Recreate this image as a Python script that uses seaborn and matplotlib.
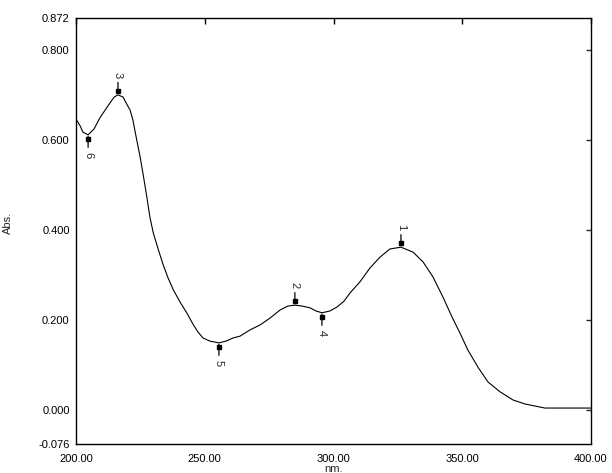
import numpy as np
import pandas as pd
import matplotlib
matplotlib.use("Agg")
import matplotlib.pyplot as plt
import matplotlib.transforms as mtransforms
import seaborn as sns

# spectrum (wavelength nm, absorbance)
wavelength = [200.0, 201.6, 202.7, 204.7, 207.0, 209.3, 211.3, 213.2, 214.8, 216.3,
              218.3, 219.0, 221.0, 222.1, 223.6, 224.9, 226.1, 227.5, 228.7, 230.0,
              232.0, 233.9, 235.8, 237.8, 240.4, 243.0, 245.6, 247.4, 249.3, 252.0,
              255.5, 258.3, 261.0, 263.7, 267.6, 271.5, 275.3,
              279.2, 282.3, 285.0, 287.8, 290.9, 293.2, 295.5, 298.6, 301.4, 304.1,
              306.4, 310.3, 314.2, 318.1, 321.9, 326.2, 330.9, 334.8, 338.6, 342.5,
              346.0, 349.1, 352.2, 356.1, 360.0, 364.7, 369.7, 374.4, 382.1, 391.8,
              400.0]
absorbance = [0.647, 0.632, 0.618, 0.612, 0.625, 0.650, 0.667, 0.683, 0.696, 0.701,
              0.696, 0.688, 0.667, 0.645, 0.600, 0.563, 0.523, 0.474, 0.429, 0.394,
              0.356, 0.322, 0.293, 0.267, 0.240, 0.216, 0.189, 0.173, 0.160, 0.153,
              0.149, 0.153, 0.160, 0.164, 0.178, 0.189, 0.204,
              0.222, 0.231, 0.233, 0.231, 0.227, 0.220, 0.216, 0.220, 0.229, 0.242,
              0.260, 0.285, 0.316, 0.340, 0.358, 0.362, 0.351, 0.329, 0.296, 0.251,
              0.207, 0.171, 0.133, 0.095, 0.062, 0.040, 0.022, 0.013, 0.004, 0.004,
              0.004]

# picked peaks / valleys
pick_no = ["1", "2", "3", "4", "5", "6"]
pick_nm = [326.2, 285.0, 216.3, 295.5, 255.5, 204.7]
pick_abs = [0.362, 0.233, 0.701, 0.216, 0.149, 0.612]
pick_kind = ["peak", "peak", "peak", "valley", "valley", "valley"]

xticks = [200, 250, 300, 350, 400]
yticks = [-0.076, 0.0, 0.2, 0.4, 0.6, 0.8, 0.872]

df = pd.DataFrame({"nm": wavelength, "abs": absorbance})

sns.set_style("white")
plt.rcParams["font.family"] = ["Liberation Sans", "DejaVu Sans"]
plt.rcParams["font.size"] = 8

fig = plt.figure(figsize=(6.12, 4.73), dpi=100)
ax = fig.add_axes([76 / 612, 29 / 473, 515 / 612, 426 / 473])

sns.lineplot(data=df, x="nm", y="abs", ax=ax, color="black", linewidth=0.8)

# peak pick markers: vertical stem with small square and rotated number
for no, x, y, kind in zip(pick_no, pick_nm, pick_abs, pick_kind):
    s = 1 if kind == "peak" else -1
    ax.annotate("", xy=(x, y), xytext=(0, s * 9), textcoords="offset points",
                xycoords="data",
                arrowprops=dict(arrowstyle="-", lw=0.9, color="black",
                                shrinkA=0, shrinkB=1))
    tr = mtransforms.offset_copy(ax.transData, fig=fig, x=0, y=s * 4, units="dots")
    ax.plot([x], [y], marker="s", ms=2.2, color="black", transform=tr)
    ax.annotate(no, xy=(x, y), xytext=(0, s * 14.5), textcoords="offset points",
                ha="center", va="center", rotation=270, fontsize=8)

ax.set_xlim(200, 400)
ax.set_ylim(-0.076, 0.872)
ax.set_xticks(xticks)
ax.set_xticklabels([f"{v:.2f}" for v in xticks])
ax.set_yticks(yticks)
ax.set_yticklabels([f"{v:.3f}" for v in yticks])

ax.tick_params(axis="x", direction="in", top=True, length=4, width=1,
               pad=7, labelsize=8, colors="black")
ax.tick_params(axis="y", direction="out", length=3.5, width=1, pad=1,
               labelsize=8, colors="black")
for t in (ax.yaxis.get_major_ticks()[0], ax.yaxis.get_major_ticks()[-1]):
    t.tick1line.set_visible(False)

sec = ax.secondary_yaxis("right")
sec.set_yticks([0.0, 0.2, 0.4, 0.6, 0.8])
sec.tick_params(direction="in", length=3.5, width=1, labelright=False)
sec.spines["right"].set_visible(False)

for sp in ax.spines.values():
    sp.set_color("black")
    sp.set_linewidth(1)

ax.set_xlabel("nm.", fontsize=8)
ax.set_ylabel("Abs.", fontsize=8)
ax.xaxis.set_label_coords(0.5, -0.046)
ax.yaxis.set_label_coords(-0.122, 0.52)

fig.savefig("out.png", dpi=100)
